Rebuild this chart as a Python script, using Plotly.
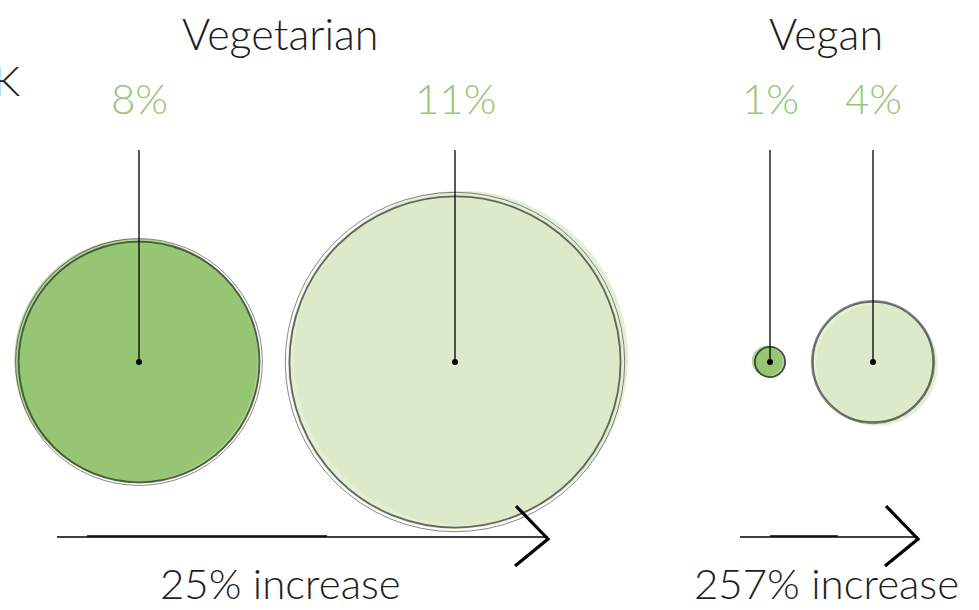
import plotly.graph_objects as go

# ---- data ----
groups = ["Vegetarian", "Vegetarian", "Vegan", "Vegan"]
values = [8, 11, 1, 4]                # percent labels / bubble size
value_labels = ["8%", "11%", "1%", "4%"]
group_titles = ["Vegetarian", "Vegan"]
increase_labels = ["25% increase", "257% increase"]
country = "UK"

# ---- layout config (pixel coordinates of the canvas) ----
W, H = 979, 610
bubble_x = [139, 455, 770, 873]
center_y = 362
stem_top = 150
label_y = 98
title_x = [280, 826]
title_y = 33
arrow_x0 = [57, 740]
arrow_x1 = [548, 918]
arrow_y = 537
px_per_pct = 30.4   # bubble diameter in px per percentage point
blob_dx = [-3, 6, -3, 4]   # slight misregistration of the colour blob (style)
blob_dy = [-2, -4, -1, 3]

dark = "#8cc066"
light = "#d9e8c3"
label_green = "#96c777"
fills = [dark, light, dark, light]
FONT = "Lato"
TXT = "#1e1e1e"

fig = go.Figure()

# coloured fill blobs (slightly offset, hand-painted look)
fig.add_trace(go.Scatter(
    x=[bx + d for bx, d in zip(bubble_x, blob_dx)],
    y=[center_y + d for d in blob_dy], mode="markers",
    marker=dict(size=values, sizemode="diameter", sizeref=1 / px_per_pct,
                color=fills, line=dict(width=0)),
    hoverinfo="skip", showlegend=False))
fig.add_trace(go.Scatter(
    x=bubble_x, y=[center_y] * 4, mode="markers",
    marker=dict(size=values, sizemode="diameter", sizeref=1 / px_per_pct,
                color=fills, line=dict(width=0)),
    hoverinfo="skip", showlegend=False))

# sketchy outlines (two slightly different strokes)
for mult, w, col in [(0.99, 1.8, "rgba(25,25,25,0.9)"),
                     (1.015, 1.0, "rgba(30,30,30,0.75)")]:
    fig.add_trace(go.Scatter(
        x=bubble_x, y=[center_y] * 4, mode="markers",
        marker=dict(size=[v * mult for v in values], sizemode="diameter",
                    sizeref=1 / px_per_pct, color="rgba(0,0,0,0)",
                    line=dict(width=w, color=col)),
        hoverinfo="skip", showlegend=False))

# stems and centre dots
for bx in bubble_x:
    fig.add_trace(go.Scatter(
        x=[bx, bx], y=[stem_top, center_y], mode="lines",
        line=dict(color="black", width=1.3),
        hoverinfo="skip", showlegend=False))
fig.add_trace(go.Scatter(
    x=bubble_x, y=[center_y] * 4, mode="markers",
    marker=dict(size=6, color="black"),
    hoverinfo="skip", showlegend=False))

# value labels
for bx, lab in zip(bubble_x, value_labels):
    fig.add_annotation(x=bx, y=label_y, text=lab, showarrow=False,
                       font=dict(family=FONT, size=42, color=label_green, weight=300),
                       xanchor="center", yanchor="middle")

# group titles
for tx, t in zip(title_x, group_titles):
    fig.add_annotation(x=tx, y=title_y, text=t, showarrow=False,
                       font=dict(family=FONT, size=43, color=TXT, weight=300),
                       xanchor="center", yanchor="middle")

# country label (cut off at the left edge, as in the reference)
fig.add_annotation(x=23, y=80, text=country, showarrow=False,
                   font=dict(family=FONT, size=42, color=TXT, weight=300),
                   xanchor="right", yanchor="middle")

# arrows
for x0, x1 in zip(arrow_x0, arrow_x1):
    fig.add_shape(type="line", x0=x0, x1=x1, y0=arrow_y, y1=arrow_y,
                  line=dict(color="black", width=1.6), layer="above")
    fig.add_shape(type="line", x0=x0 + 30, x1=x0 + (x1 - x0) * 0.55,
                  y0=arrow_y - 1, y1=arrow_y - 1,
                  line=dict(color="black", width=1.4), layer="above")
    fig.add_shape(type="path",
                  path=f"M {x1-32},{arrow_y-31} L {x1},{arrow_y+2} L {x1-33},{arrow_y+29}",
                  line=dict(color="black", width=3.2), layer="above")

# increase labels
for tx, t in zip(title_x, increase_labels):
    fig.add_annotation(x=tx, y=H, text=t, showarrow=False,
                       font=dict(family=FONT, size=42, color=TXT, weight=300),
                       xanchor="center", yanchor="bottom")

fig.update_layout(
    width=W, height=H,
    margin=dict(l=0, r=0, t=0, b=0),
    paper_bgcolor="white", plot_bgcolor="white",
    xaxis=dict(range=[0, W], visible=False, fixedrange=True),
    yaxis=dict(range=[H, 0], visible=False, fixedrange=True),
    showlegend=False,
)

fig.write_html("out.html", config={"displayModeBar": False})
